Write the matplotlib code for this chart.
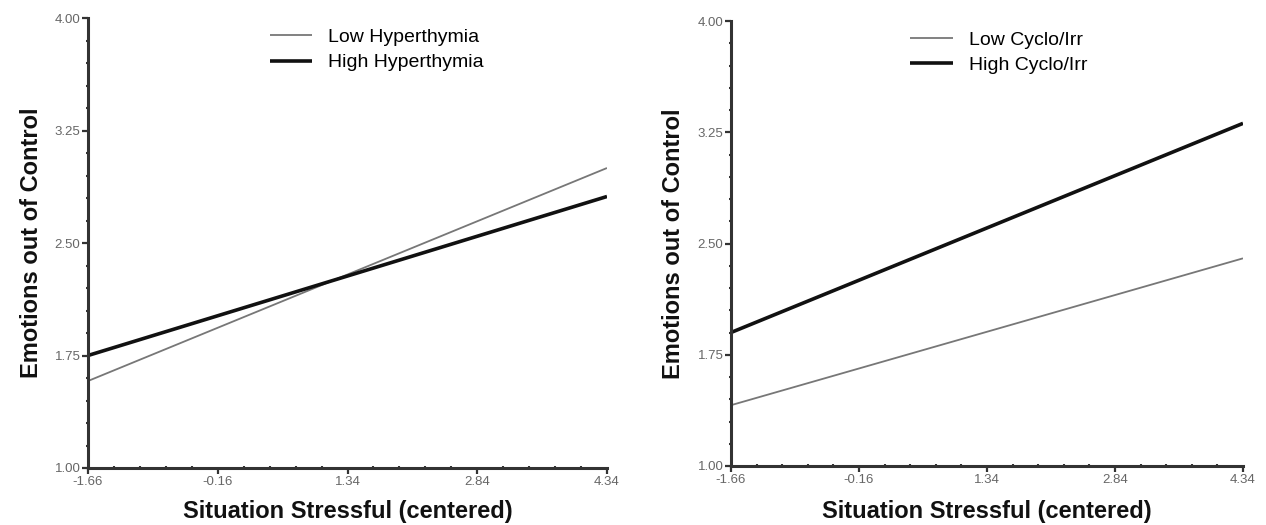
import matplotlib
matplotlib.use('Agg')
from matplotlib import pyplot as plt
from matplotlib.ticker import AutoMinorLocator

plt.rcParams['font.family'] = ['Liberation Sans', 'DejaVu Sans']

# x range of the simple slopes (centered stress)
x_ends = [-1.66, 4.34]
x_ticks = [-1.66, -0.16, 1.34, 2.84, 4.34]
y_ticks = [1.00, 1.75, 2.50, 3.25, 4.00]

# predicted values at the two ends
low_hyper = [1.58, 3.00]
high_hyper = [1.75, 2.81]
low_cyclo = [1.41, 2.40]
high_cyclo = [1.90, 3.31]

panels = [
    (['Low Hyperthymia', 'High Hyperthymia'], low_hyper, high_hyper),
    (['Low Cyclo/Irr', 'High Cyclo/Irr'], low_cyclo, high_cyclo),
]

W, H = 1266, 525
fig = plt.figure(figsize=(W / 100, H / 100), dpi=100)

# axes boxes in pixels: left, top, right, bottom, y-label right edge
boxes = [(88, 18, 607, 468, 43), (731, 21, 1243, 466, 685)]

for (labels, low, high), (l, t, r, b, ylab) in zip(panels, boxes):
    ax = fig.add_axes([l / W, 1 - b / H, (r - l) / W, (b - t) / H])
    ax.plot(x_ends, low, color='#777777', lw=1.3, label=labels[0], solid_capstyle='butt')
    ax.plot(x_ends, high, color='#111111', lw=2.6, label=labels[1], solid_capstyle='butt')

    ax.set_xlim(x_ends[0], x_ends[1])
    ax.set_ylim(1.0, 4.0)
    ax.set_xticks(x_ticks)
    ax.set_xticklabels(['%.2f' % v for v in x_ticks])
    ax.set_yticks(y_ticks)
    ax.set_yticklabels(['%.2f' % v for v in y_ticks])
    ax.xaxis.set_minor_locator(AutoMinorLocator(5))
    ax.yaxis.set_minor_locator(AutoMinorLocator(5))

    for side in ['top', 'right']:
        ax.spines[side].set_visible(False)
    for side in ['left', 'bottom']:
        ax.spines[side].set_linewidth(2.2)
        ax.spines[side].set_color('#333333')

    ax.tick_params(which='major', direction='out', length=4.5, width=1.6,
                   color='#333333', labelsize=9.5, labelcolor='#666666', pad=1)
    ax.tick_params(which='minor', direction='inout', length=3.5, width=1.5, color='#333333')

    ax.set_xlabel('Situation Stressful (centered)', fontsize=17, fontweight='bold', color='#111111')
    ax.set_ylabel('Emotions out of Control', fontsize=17, fontweight='bold', color='#111111')
    ax.xaxis.set_label_coords(0.5, -(500 - b) / (b - t))
    ax.xaxis.label.set_va('top')
    ax.yaxis.set_label_coords((ylab - l) / (r - l), 0.5)

    ax.legend(loc='upper left', bbox_to_anchor=(0.35, 0.977), frameon=False,
              fontsize=14, handlelength=2.2, handletextpad=0.8, labelspacing=0.4,
              borderpad=0, borderaxespad=0)

fig.savefig('out.png', dpi=100)
